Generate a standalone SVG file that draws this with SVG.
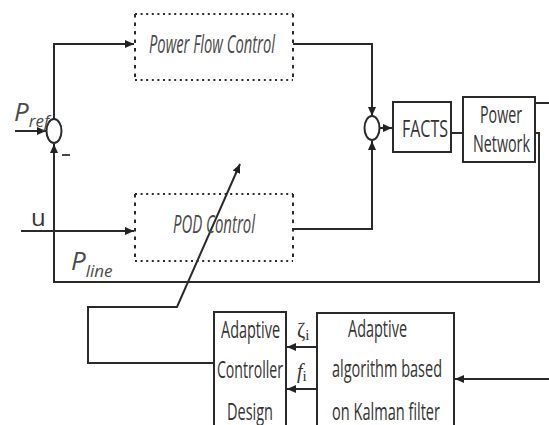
<svg xmlns="http://www.w3.org/2000/svg" width="549" height="425" viewBox="0 0 549 425">
<defs>
<marker id="ah" markerUnits="userSpaceOnUse" markerWidth="9" markerHeight="8" refX="9" refY="4" orient="auto">
<path d="M0,0 L9,4 L0,8 z" fill="#222"/>
</marker>
<style>
.ln{fill:none;stroke:#2a2a2a;stroke-width:2}
.bx{fill:#fff;stroke:#2a2a2a;stroke-width:2}
.dh{fill:none;stroke:#2a2a2a;stroke-width:2.2;stroke-dasharray:2 3.6}
.dv{fill:none;stroke:#2a2a2a;stroke-width:2;stroke-dasharray:3.5 5}
.sj{fill:#fff;stroke:#2a2a2a;stroke-width:2}
.t{font-family:"Open Sans","Liberation Sans",sans-serif;font-size:24px;fill:#333}
.it{font-family:"Open Sans","Liberation Sans",sans-serif;font-size:26px;fill:#4a4a4a;font-style:italic}
.m{font-family:"Liberation Serif",serif;fill:#333}
</style>
</defs>
<rect width="549" height="425" fill="#fff"/>
<g id="connectors">
<path class="ln" d="M15,131 H46" marker-end="url(#ah)"/>
<path class="ln" d="M54,119 V44 H134" marker-end="url(#ah)"/>
<path class="ln" d="M535,133 H539 V282 H54 V144" marker-end="url(#ah)"/>
<path class="ln" d="M21,231 H134" marker-end="url(#ah)"/>
<path class="ln" d="M293,44 H372 V116" marker-end="url(#ah)"/>
<path class="ln" d="M293,229 H372 V141" marker-end="url(#ah)"/>
<path class="ln" d="M380,128 H392" marker-end="url(#ah)"/>
<path class="ln" d="M451,133 H463"/>
<path class="ln" d="M535,103 H549"/>
<path class="ln" d="M214,363 H88 V307 H177 L240,164" marker-end="url(#ah)"/>
<path class="ln" d="M317,347 H287" marker-end="url(#ah)"/>
<path class="ln" d="M317,389 H287" marker-end="url(#ah)"/>
<path class="ln" d="M549,379 H455" marker-end="url(#ah)"/>
</g>
<g id="sum1">
<ellipse class="sj" cx="54" cy="131" rx="7.5" ry="12"/>
<line x1="62" y1="155" x2="70" y2="155" stroke="#333" stroke-width="1.8"/>
</g>
<g id="sum2">
<ellipse class="sj" cx="372" cy="128" rx="7.5" ry="12"/>
</g>
<g id="pref-label">
<text class="it" x="14" y="121" font-size="21">P<tspan font-size="17" dy="6">ref</tspan></text>
</g>
<g id="u-label">
<text class="t" x="31" y="226" font-size="17">u</text>
</g>
<g id="pline-label">
<text class="it" x="71" y="270" font-size="21">P<tspan font-size="17" dy="7">line</tspan></text>
</g>
<g id="power-flow-control">
<path class="dh" d="M135,14 H293 M135,80 H293"/>
<path class="dv" d="M135,14 V80 M293,14 V80"/>
<text class="it" x="149" y="53" textLength="126" lengthAdjust="spacingAndGlyphs">Power Flow Control</text>
</g>
<g id="pod-control">
<path class="dh" d="M135,194 H293 M135,261 H293"/>
<path class="dv" d="M135,194 V261 M293,194 V261"/>
<text class="it" x="173" y="233" textLength="82" lengthAdjust="spacingAndGlyphs">POD Control</text>
</g>
<g id="facts">
<rect class="bx" x="393" y="102" width="58" height="50"/>
<text class="t" x="402" y="137" font-size="25" textLength="46" lengthAdjust="spacingAndGlyphs">FACTS</text>
</g>
<g id="power-network">
<rect class="bx" x="463" y="97" width="72" height="65"/>
<text class="t" x="480" y="123" textLength="42" lengthAdjust="spacingAndGlyphs">Power</text>
<text class="t" x="473" y="152" textLength="57" lengthAdjust="spacingAndGlyphs">Network</text>
</g>
<g id="adaptive-controller-design">
<rect class="bx" x="214" y="312" width="72" height="130"/>
<text class="t" x="221" y="338" textLength="59" lengthAdjust="spacingAndGlyphs">Adaptive</text>
<text class="t" x="217" y="378" textLength="66" lengthAdjust="spacingAndGlyphs">Controller</text>
<text class="t" x="227" y="420" textLength="46" lengthAdjust="spacingAndGlyphs">Design</text>
</g>
<g id="kalman">
<rect class="bx" x="317" y="313" width="137" height="130"/>
<text class="t" x="348" y="337" textLength="59" lengthAdjust="spacingAndGlyphs">Adaptive</text>
<text class="t" x="332" y="377" textLength="110" lengthAdjust="spacingAndGlyphs">algorithm based</text>
<text class="t" x="332" y="420" textLength="108" lengthAdjust="spacingAndGlyphs">on Kalman filter</text>
</g>
<g id="signal-labels">
<text class="m" x="297" y="337" font-size="20">ζ<tspan font-size="15" dy="3">i</tspan></text>
<text class="m" x="297" y="378" font-size="20" font-style="italic">f<tspan font-size="15" dy="3" font-style="normal">i</tspan></text>
</g>
</svg>
